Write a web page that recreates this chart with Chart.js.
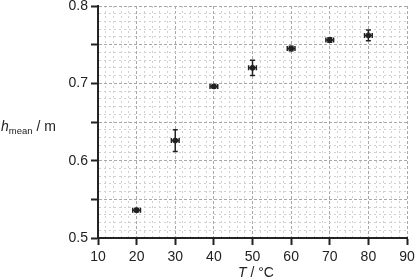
<!DOCTYPE html>
<html>
<head>
<meta charset="utf-8">
<script src="https://cdn.jsdelivr.net/npm/chart.js@4/dist/chart.umd.min.js"></script>
<style>
  html, body { margin: 0; padding: 0; background: #fff; }
  #wrap { position: relative; width: 416px; height: 280px; }
  .ttl { position: absolute; font-family: "Liberation Sans", Arial, sans-serif; font-size: 14px; color: #222; white-space: nowrap; line-height: 1; }
  .ttl sub { font-size: 9.5px; vertical-align: -3px; }
</style>
</head>
<body>
<div id="wrap">
  <canvas id="chart" width="416" height="280"></canvas>
  <div class="ttl" id="yTitle" style="left:1px; top:119px;"><i>h</i><sub>mean</sub> / m</div>
  <div class="ttl" id="xTitle" style="left:238px; top:265px;"><i>T</i> / °C</div>
</div>
<script>
const temps = [20, 30, 40, 50, 60, 70, 80];
const hMean = [0.536, 0.626, 0.696, 0.720, 0.745, 0.756, 0.762];
const hErr = [0.002, 0.014, 0.002, 0.010, 0.003, 0.003, 0.007];
const tErr = [1, 1, 1, 1, 1, 1, 1];
const xTicks = [10, 20, 30, 40, 50, 60, 70, 80, 90];
const yTicks = [0.5, 0.6, 0.7, 0.8];

const ink = '#222';

function isMajorX(v) { return Math.abs(v / 10 - Math.round(v / 10)) < 1e-6; }
function isMajorY(v) { return Math.abs(v * 20 - Math.round(v * 20)) < 1e-6; }
function isLabelY(v) { return Math.abs(v * 10 - Math.round(v * 10)) < 1e-6; }

const errorBars = {
  id: 'errorBars',
  afterDatasetsDraw(chart) {
    const ctx = chart.ctx;
    const xs = chart.scales.x, ys = chart.scales.y;
    ctx.save();
    ctx.strokeStyle = ink;
    ctx.lineWidth = 1.5;
    const cap = 2.5;
    temps.forEach((t, i) => {
      const px = xs.getPixelForValue(t);
      const py = ys.getPixelForValue(hMean[i]);
      const x1 = xs.getPixelForValue(t - tErr[i]);
      const x2 = xs.getPixelForValue(t + tErr[i]);
      const y1 = ys.getPixelForValue(hMean[i] - hErr[i]);
      const y2 = ys.getPixelForValue(hMean[i] + hErr[i]);
      ctx.beginPath();
      ctx.moveTo(x1, py); ctx.lineTo(x2, py);
      ctx.moveTo(x1, py - cap); ctx.lineTo(x1, py + cap);
      ctx.moveTo(x2, py - cap); ctx.lineTo(x2, py + cap);
      ctx.moveTo(px, y1); ctx.lineTo(px, y2);
      ctx.moveTo(px - cap, y1); ctx.lineTo(px + cap, y1);
      ctx.moveTo(px - cap, y2); ctx.lineTo(px + cap, y2);
      ctx.stroke();
    });
    ctx.restore();
  }
};

new Chart(document.getElementById('chart').getContext('2d'), {
  type: 'scatter',
  data: {
    datasets: [{
      data: temps.map((t, i) => ({ x: t, y: hMean[i] })),
      backgroundColor: ink,
      borderColor: ink,
      pointRadius: 2.5,
      pointHoverRadius: 2.5
    }]
  },
  options: {
    responsive: false,
    animation: false,
    layout: { padding: { top: 6, right: 9, left: 0, bottom: 0 } },
    plugins: { legend: { display: false }, tooltip: { enabled: false } },
    scales: {
      x: {
        type: 'linear',
        min: xTicks[0],
        max: xTicks[xTicks.length - 1],
        afterFit(s) { s.height = 42; s.paddingLeft = 0; s.paddingRight = 0; },
        ticks: {
          stepSize: 2,
          autoSkip: false,
          maxRotation: 0,
          padding: 4,
          color: ink,
          font: { family: '"Liberation Sans", Arial, sans-serif', size: 14 },
          callback: v => isMajorX(v) ? String(v) : ''
        },
        grid: {
          color: c => isMajorX(c.tick.value) ? '#a8a8a8' : '#d0d0d0',
          lineWidth: 1,
          tickLength: 7,
          tickWidth: 2,
          tickColor: c => isMajorX(c.tick.value) ? ink : 'rgba(0,0,0,0)'
        },
        border: {
          color: ink,
          width: 2,
          dash: c => isMajorX(c.tick.value) ? [3, 2] : [2, 3]
        }
      },
      y: {
        type: 'linear',
        min: yTicks[0],
        max: yTicks[yTicks.length - 1],
        afterFit(s) { s.width = 98; s.paddingTop = 0; s.paddingBottom = 0; },
        ticks: {
          stepSize: 0.01,
          autoSkip: false,
          padding: 3,
          color: ink,
          font: { family: '"Liberation Sans", Arial, sans-serif', size: 14 },
          callback: v => isLabelY(v) ? v.toFixed(1) : ''
        },
        grid: {
          color: c => isMajorY(c.tick.value) ? '#a8a8a8' : '#d0d0d0',
          lineWidth: 1,
          tickLength: 7,
          tickWidth: 2,
          tickColor: c => isMajorY(c.tick.value) ? ink : 'rgba(0,0,0,0)'
        },
        border: {
          color: ink,
          width: 2,
          dash: c => isMajorY(c.tick.value) ? [3, 2] : [2, 3]
        }
      }
    }
  },
  plugins: [errorBars]
});
</script>
</body>
</html>
